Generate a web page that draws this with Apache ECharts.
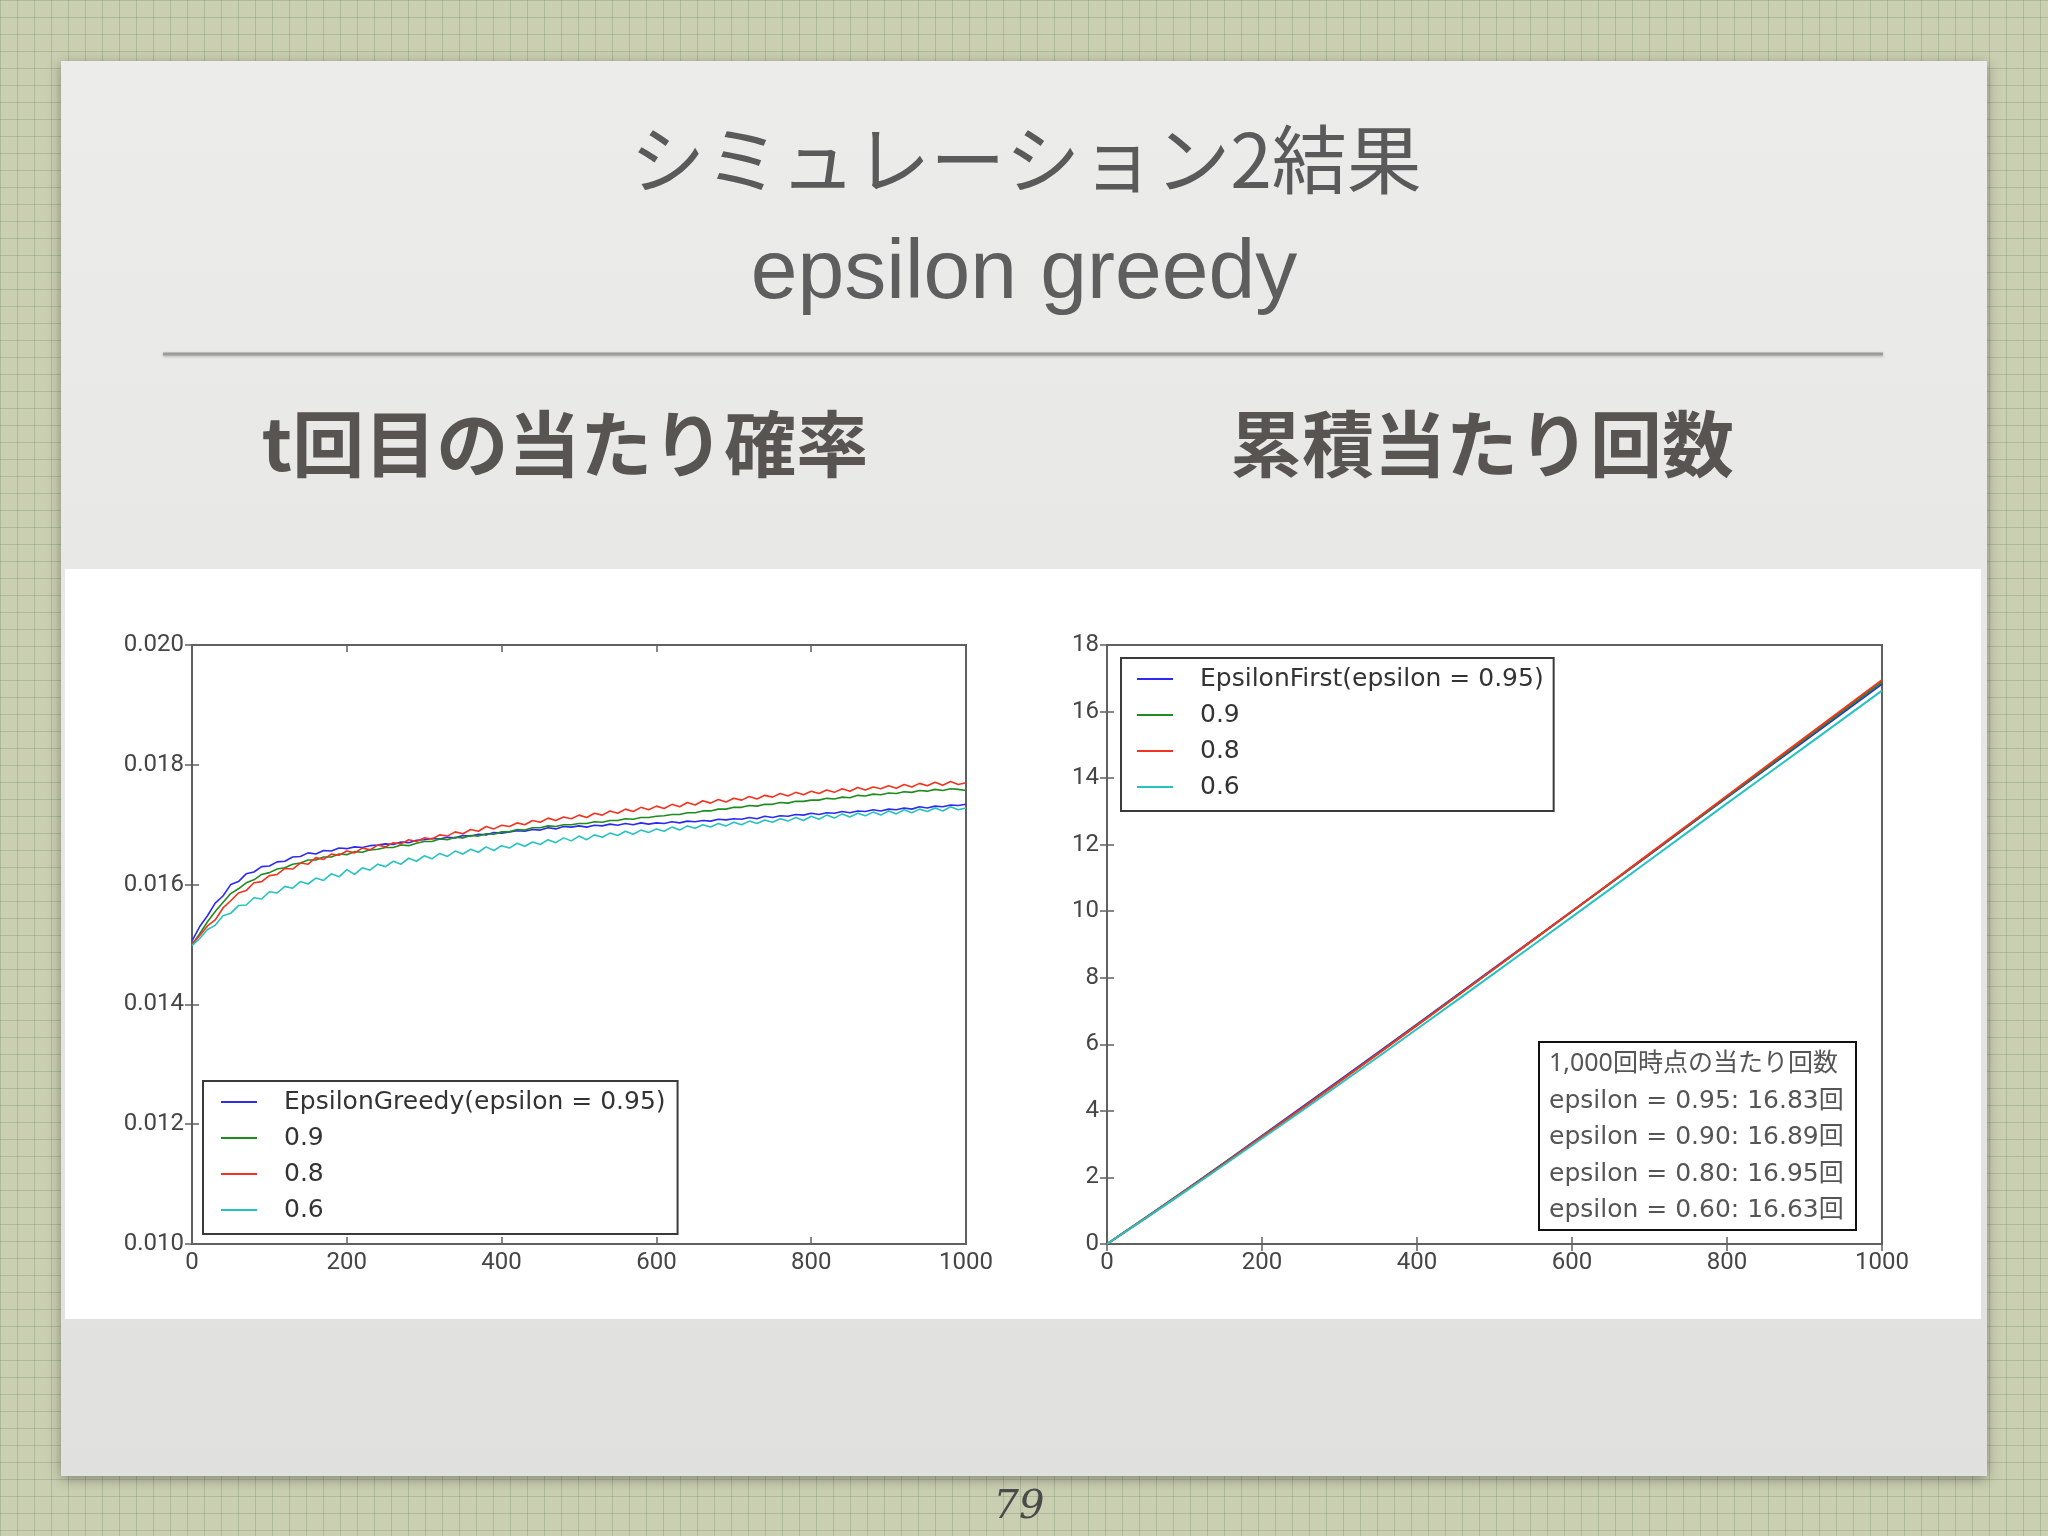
<!DOCTYPE html>
<html>
<head>
<meta charset="utf-8">
<script src="https://cdn.jsdelivr.net/npm/echarts@6/dist/echarts.min.js"></script>
<style>
html,body{margin:0;padding:0;}
body{
  width:2048px;height:1536px;overflow:hidden;
  background-color:#cbcfb1;
  background-image:
    linear-gradient(rgba(105,140,100,0.30) 1px, transparent 1px),
    linear-gradient(90deg, rgba(105,140,100,0.30) 1px, transparent 1px);
  background-size:17px 17px;
}
#chart{width:2048px;height:1536px;}
</style>
</head>
<body>
<div id="chart"></div>
<script>
// ---------- texts ----------
const slideTitle = 'シミュレーション2結果';
const slideSubtitle = 'epsilon greedy';
const leftHeading = 't回目の当たり確率';
const rightHeading = '累積当たり回数';
const pageNumber = '79';

// ---------- left chart: probability of hit at step t ----------
const leftNames = ['EpsilonGreedy(epsilon = 0.95)', '0.9', '0.8', '0.6'];
const stepsLeft = [];
for (let s = 0; s <= 1000; s += 10) stepsLeft.push(s);

const probEps095 = [0.01506,0.01530,0.01548,0.01569,0.01581,0.01600,0.01605,0.01618,0.01621,0.01630,0.01631,0.01638,0.01639,0.01646,0.01647,0.01653,0.01651,0.01657,0.01656,0.01661,0.01660,
0.01663,0.01662,0.01665,0.01666,0.01668,0.01667,0.01671,0.01670,0.01674,0.01675,
0.01677,0.01676,0.01679,0.01678,0.01682,0.01681,0.01684,0.01683,0.01687,0.01686,
0.01688,0.01690,0.01689,0.01692,0.01691,0.01695,0.01693,0.01697,0.01696,0.01698,
0.01696,0.01699,0.01698,0.01701,0.01699,0.01702,0.01700,0.01703,0.01701,0.01703,
0.01702,0.01705,0.01703,0.01706,0.01705,0.01707,0.01706,0.01709,0.01708,0.01710,
0.01709,0.01712,0.01710,0.01714,0.01712,0.01715,0.01714,0.01717,0.01716,0.01719,
0.01717,0.01720,0.01719,0.01722,0.01720,0.01723,0.01722,0.01725,0.01723,0.01726,
0.01725,0.01728,0.01726,0.01730,0.01728,0.01731,0.01730,0.01733,0.01732,0.01734];

const probEps090 = [0.01500,0.01518,0.01538,0.01555,0.01570,0.01585,0.01593,0.01603,0.01608,0.01617,0.01620,0.01626,0.01628,0.01634,0.01636,0.01641,0.01641,0.01646,0.01646,0.01651,0.01650,
0.01655,0.01654,0.01658,0.01659,0.01662,0.01662,0.01666,0.01665,0.01669,0.01672,
0.01672,0.01676,0.01675,0.01679,0.01678,0.01682,0.01681,0.01685,0.01684,0.01688,
0.01688,0.01692,0.01691,0.01695,0.01695,0.01698,0.01697,0.01700,0.01700,0.01702,
0.01702,0.01705,0.01704,0.01707,0.01707,0.01710,0.01709,0.01712,0.01712,0.01714,
0.01715,0.01717,0.01717,0.01720,0.01720,0.01723,0.01723,0.01726,0.01726,0.01729,
0.01729,0.01732,0.01731,0.01734,0.01734,0.01737,0.01736,0.01739,0.01739,0.01741,
0.01741,0.01744,0.01743,0.01746,0.01745,0.01749,0.01748,0.01751,0.01750,0.01753,
0.01752,0.01755,0.01754,0.01757,0.01756,0.01759,0.01757,0.01760,0.01759,0.01757];

const probEps080 = [0.01500,0.01515,0.01531,0.01541,0.01561,0.01573,0.01586,0.01590,0.01603,0.01605,0.01615,0.01617,0.01627,0.01626,0.01636,0.01634,0.01645,0.01642,0.01651,0.01649,0.01656,
0.01653,0.01661,0.01658,0.01666,0.01663,0.01670,0.01668,0.01675,0.01672,0.01678,
0.01676,0.01683,0.01681,0.01688,0.01685,0.01692,0.01689,0.01697,0.01693,0.01699,
0.01697,0.01703,0.01700,0.01707,0.01704,0.01711,0.01707,0.01713,0.01710,0.01716,
0.01712,0.01719,0.01716,0.01723,0.01719,0.01726,0.01722,0.01729,0.01725,0.01731,
0.01727,0.01734,0.01730,0.01737,0.01733,0.01740,0.01736,0.01742,0.01738,0.01744,
0.01741,0.01747,0.01743,0.01749,0.01746,0.01752,0.01748,0.01754,0.01750,0.01756,
0.01752,0.01758,0.01754,0.01760,0.01756,0.01762,0.01758,0.01763,0.01760,0.01765,
0.01761,0.01767,0.01763,0.01769,0.01765,0.01771,0.01766,0.01772,0.01767,0.01770];

const probEps060 = [0.01498,0.01510,0.01525,0.01532,0.01548,0.01552,0.01565,0.01566,0.01578,0.01576,0.01588,0.01586,0.01597,0.01594,0.01605,0.01601,0.01611,0.01607,0.01618,0.01613,0.01625,
0.01617,0.01628,0.01624,0.01634,0.01630,0.01639,0.01634,0.01644,0.01639,0.01648,
0.01643,0.01652,0.01647,0.01656,0.01651,0.01659,0.01654,0.01663,0.01657,0.01665,
0.01661,0.01669,0.01664,0.01671,0.01667,0.01675,0.01670,0.01678,0.01673,0.01681,
0.01675,0.01683,0.01679,0.01686,0.01682,0.01689,0.01684,0.01691,0.01687,0.01693,
0.01689,0.01696,0.01691,0.01698,0.01694,0.01700,0.01696,0.01702,0.01698,0.01704,
0.01700,0.01706,0.01702,0.01708,0.01704,0.01710,0.01706,0.01712,0.01707,0.01714,
0.01709,0.01716,0.01711,0.01718,0.01713,0.01719,0.01715,0.01721,0.01716,0.01723,
0.01718,0.01725,0.01720,0.01726,0.01722,0.01728,0.01723,0.01730,0.01725,0.01728];

// ---------- right chart: cumulative hits ----------
const rightNames = ['EpsilonFirst(epsilon = 0.95)', '0.9', '0.8', '0.6'];
const stepsRight = [0,100,200,300,400,500,600,700,800,900,1000];
const cumEps095 = [0,1.60,3.25,4.92,6.60,8.30,10.00,11.70,13.42,15.12,16.83];
const cumEps090 = [0,1.59,3.23,4.89,6.58,8.28,9.99,11.71,13.44,15.16,16.89];
const cumEps080 = [0,1.58,3.22,4.88,6.57,8.28,10.00,11.73,13.47,15.21,16.95];
const cumEps060 = [0,1.56,3.17,4.80,6.46,8.14,9.83,11.53,13.24,14.93,16.63];

// ---------- annotation box ----------
const annoTitle = '1,000回時点の当たり回数';
const annoEpsilons = ['0.95','0.90','0.80','0.60'];
const annoHits = ['16.83','16.89','16.95','16.63'];

// ---------- axis ticks ----------
const leftYMin = 0.010, leftYMax = 0.020, leftYStep = 0.002;
const rightYMin = 0, rightYMax = 18, rightYStep = 2;
const xMin = 0, xMax = 1000, xStep = 200;

const colors = ['#2b2bf2', '#1e8c1e', '#f3321f', '#26c2c2'];
const tickFont = "Roboto, 'DejaVu Sans'";
const legendFont = 'DejaVu Sans';
const frameColor = '#606060';

function zip(xs, ys){ return xs.map((x,i)=>[x, ys[i]]); }

const chart = echarts.init(document.getElementById('chart'), null, {renderer:'canvas'});

function xAx(grid, pos, showLabel){
  return {
    gridIndex: grid, type:'value', min:xMin, max:xMax, interval:xStep, position:pos,
    axisLine:{show:false},
    axisTick:{show:true, inside:true, length:7, lineStyle:{color:frameColor, width:1.5}},
    axisLabel:{show:showLabel, margin:7, fontFamily:tickFont, fontSize:24, color:'#454545',
      formatter:v=>String(Math.round(v)), showMaxLabel:true, showMinLabel:true},
    splitLine:{show:false}
  };
}
function yAx(grid, pos, showLabel, mn, mx, step, fmt){
  return {
    gridIndex: grid, type:'value', min:mn, max:mx, interval:step, position:pos,
    axisLine:{show:false},
    axisTick:{show:true, inside:true, length:7, lineStyle:{color:frameColor, width:1.5}},
    axisLabel:{show:showLabel, margin:8, fontFamily:tickFont, fontSize:24, color:'#454545', formatter:fmt, showMaxLabel:true, showMinLabel:true},
    splitLine:{show:false}
  };
}

const leftSeriesData = [probEps095, probEps090, probEps080, probEps060];
const rightSeriesData = [cumEps095, cumEps090, cumEps080, cumEps060];

const series = [];
leftSeriesData.forEach((d,i)=>{
  series.push({
    name: leftNames[i], type:'line', xAxisIndex:0, yAxisIndex:0,
    data: zip(stepsLeft, d), showSymbol:false, smooth:false,
    color: colors[i], lineStyle:{width:1.6, color:colors[i]}, z: 2+i, silent:true
  });
});
rightSeriesData.forEach((d,i)=>{
  series.push({
    name: rightNames[i], type:'line', xAxisIndex:2, yAxisIndex:2,
    data: zip(stepsRight, d), showSymbol:false, smooth:true,
    color: colors[i], lineStyle:{width:2, color:colors[i]}, z: 2+i, silent:true
  });
});

const legendCommon = {
  orient:'vertical', itemGap:8, itemWidth:36, itemHeight:2, icon:'rect',
  borderColor:'#3a3a3a', borderWidth:2, backgroundColor:'#ffffff', borderRadius:0,
  selectedMode:false, z:20,
  textStyle:{fontFamily:legendFont, fontSize:25, color:'#333', lineHeight:28, padding:[0,0,0,22]}
};

const annoChildren = [
  {type:'rect', shape:{x:0,y:0,width:317,height:188}, style:{fill:'#ffffff', stroke:'#111', lineWidth:2}},
  {type:'text', style:{text:annoTitle, x:10, y:22, verticalAlign:'middle', fontFamily:"'Noto Sans', 'Noto Sans CJK JP'", fontSize:25, fill:'#555'}}
];
annoEpsilons.forEach((e,i)=>{
  annoChildren.push({type:'text', style:{text:'epsilon = ' + e + ': ' + annoHits[i] + '回', x:10, y:59 + i*36.5, verticalAlign:'middle', fontFamily:"'DejaVu Sans', 'Noto Sans CJK JP'", fontSize:25, fill:'#555'}});
});

const option = {
  animation:false,
  backgroundColor:'transparent',
  graphic:[
    {type:'rect', z:-10, shape:{x:61,y:61,width:1926,height:1415},
     style:{fill:new echarts.graphic.LinearGradient(0,0,0,1,[{offset:0,color:'#ececeb'},{offset:1,color:'#e0e1df'}]),
            shadowBlur:12, shadowColor:'rgba(0,0,0,0.35)', shadowOffsetY:3}},
    {type:'rect', z:-9, shape:{x:65,y:569,width:1916,height:750}, style:{fill:'#ffffff'}},
    {type:'line', z:-8, shape:{x1:163,y1:354,x2:1883,y2:354},
     style:{stroke:'#9c9c9c', lineWidth:3, shadowBlur:3, shadowColor:'rgba(0,0,0,0.25)', shadowOffsetY:1}},
    {type:'text', z:5, style:{text:slideTitle, x:1026, y:159, align:'center', verticalAlign:'middle',
      fontFamily:'Noto Sans CJK JP', fontSize:75, fontWeight:'normal', fill:'#5a5a5a'}},
    {type:'text', z:5, style:{text:slideSubtitle, x:1024, y:275, align:'center', verticalAlign:'middle',
      fontFamily:'Liberation Sans', fontSize:84, fill:'#5e5e5e'}},
    {type:'text', z:5, style:{text:leftHeading, x:565, y:444, align:'center', verticalAlign:'middle',
      fontFamily:'Noto Sans CJK JP', fontSize:72, fontWeight:'bold', fill:'#585452'}},
    {type:'text', z:5, style:{text:rightHeading, x:1482, y:444, align:'center', verticalAlign:'middle',
      fontFamily:'Noto Sans CJK JP', fontSize:72, fontWeight:'bold', fill:'#585452'}},
    {type:'text', z:5, style:{text:pageNumber, x:1019, y:1508, align:'center', verticalAlign:'middle',
      fontFamily:'DejaVu Serif', fontStyle:'italic', fontSize:40, fill:'#4a4a4a'}},
    {type:'group', z:100, x:1539, y:1042, children:annoChildren}
  ],
  grid:[
    {left:192, top:645, width:774, height:599, show:true, borderColor:frameColor, borderWidth:2, backgroundColor:'#fff', containLabel:false},
    {left:1107, top:645, width:775, height:599, show:true, borderColor:frameColor, borderWidth:2, backgroundColor:'#fff', containLabel:false}
  ],
  xAxis:[
    xAx(0,'bottom',true), xAx(0,'top',false),
    xAx(1,'bottom',true), xAx(1,'top',false)
  ],
  yAxis:[
    yAx(0,'left',true,leftYMin,leftYMax,leftYStep, v=>v.toFixed(3)),
    yAx(0,'right',false,leftYMin,leftYMax,leftYStep, v=>v.toFixed(3)),
    yAx(1,'left',true,rightYMin,rightYMax,rightYStep, v=>String(Math.round(v))),
    yAx(1,'right',false,rightYMin,rightYMax,rightYStep, v=>String(Math.round(v)))
  ],
  legend:[
    Object.assign({}, legendCommon, {data:leftNames, left:203, top:1081, padding:[7,12,10,18]}),
    Object.assign({}, legendCommon, {data:rightNames, left:1121, top:658, padding:[7,10,10,16]})
  ],
  series: series
};
chart.setOption(option);
</script>
</body>
</html>
